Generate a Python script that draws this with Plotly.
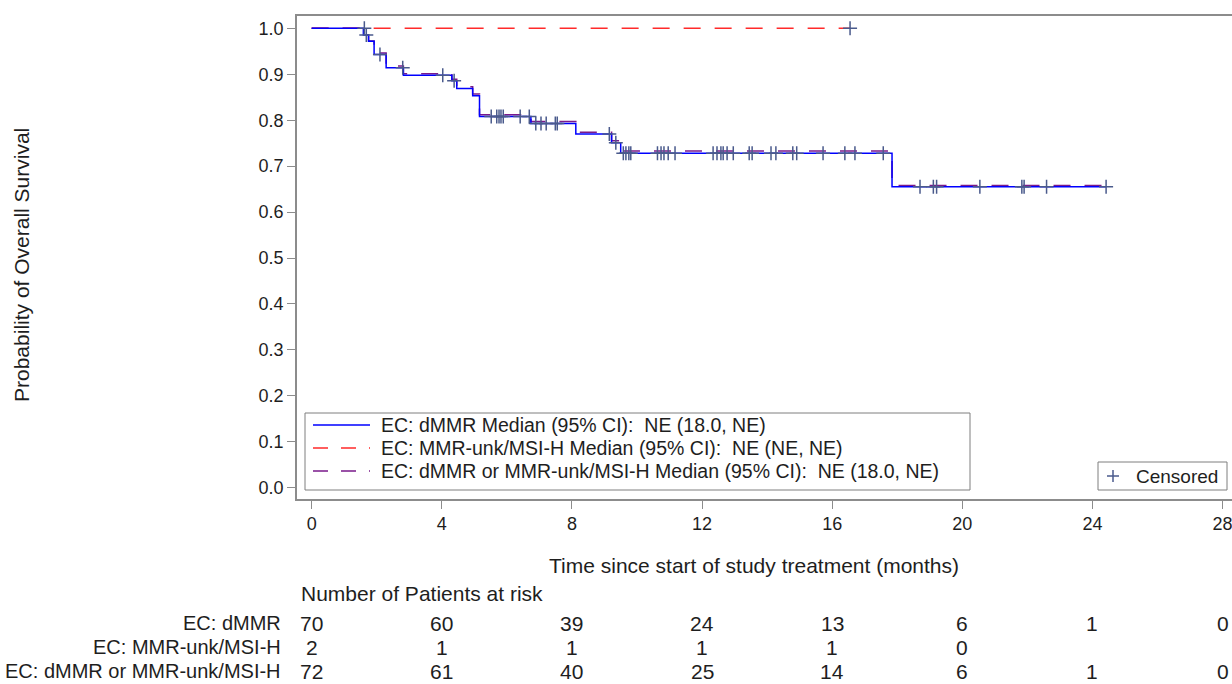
import plotly.graph_objects as go

# ---------------- data ----------------
# dMMR (blue, solid)
dmmr_t = [0, 1.59, 1.75, 1.92, 2.29, 2.82, 4.31, 4.46, 4.95, 5.16, 6.74, 8.12, 9.22, 9.50, 17.84, 24.42]
dmmr_s = [1.0, 0.9857, 0.972, 0.943, 0.914, 0.898, 0.886, 0.869, 0.853, 0.808, 0.793, 0.770, 0.751, 0.728, 0.655, 0.655]

# MMR-unk/MSI-H (red, dashed)
unk_t = [0, 16.55]
unk_s = [1.0, 1.0]

# combined (purple, dashed)
comb_t = dmmr_t
comb_s = [1.0, 0.9861, 0.9725, 0.946, 0.918, 0.901, 0.889, 0.873, 0.857, 0.812, 0.797, 0.774, 0.755, 0.733, 0.658, 0.658]

# censored observations (time, survival)
cens_t = [1.62, 1.68, 2.10, 2.80, 4.03, 4.38,
          5.52, 5.69, 5.76, 5.82, 5.89, 6.41, 6.69,
          6.89, 7.05, 7.21, 7.49, 7.55,
          9.15, 9.35,
          9.58, 9.66, 9.75, 9.81, 10.63, 10.74, 10.83, 10.96, 11.17,
          12.34, 12.46, 12.58, 12.65, 12.77, 12.96, 13.45, 13.54,
          14.12, 14.27, 14.79, 14.91, 15.72, 16.39, 16.70, 17.57,
          18.70, 19.11, 19.21, 20.54, 21.83, 21.90, 22.59, 24.42,
          16.55]
cens_s = [1.0, 0.9857, 0.943, 0.914, 0.898, 0.886,
          0.808, 0.808, 0.808, 0.808, 0.808, 0.808, 0.808,
          0.793, 0.793, 0.793, 0.793, 0.793,
          0.770, 0.751,
          0.728, 0.728, 0.728, 0.728, 0.728, 0.728, 0.728, 0.728, 0.728,
          0.728, 0.728, 0.728, 0.728, 0.728, 0.728, 0.728, 0.728,
          0.728, 0.728, 0.728, 0.728, 0.728, 0.728, 0.728, 0.728,
          0.655, 0.655, 0.655, 0.655, 0.655, 0.655, 0.655, 0.655,
          1.0]

x_ticks = [0, 4, 8, 12, 16, 20, 24, 28]
y_ticks = [0.0, 0.1, 0.2, 0.3, 0.4, 0.5, 0.6, 0.7, 0.8, 0.9, 1.0]

risk_labels = ["EC: dMMR", "EC: MMR-unk/MSI-H", "EC: dMMR or MMR-unk/MSI-H"]
risk_dmmr = ["70", "60", "39", "24", "13", "6", "1", "0"]
risk_unk = ["2", "1", "1", "1", "1", "0", "", ""]
risk_comb = ["72", "61", "40", "25", "14", "6", "1", "0"]

legend_names = [
    "EC: dMMR Median (95% CI):  NE (18.0, NE)",
    "EC: MMR-unk/MSI-H Median (95% CI):  NE (NE, NE)",
    "EC: dMMR or MMR-unk/MSI-H Median (95% CI):  NE (18.0, NE)",
]

# ---------------- styling ----------------
FONT = "Liberation Sans, Arial, sans-serif"
TXT = "#1e1e1e"
AX = "#8c8c8c"
CENS = "#4a5a8c"
BLUE = "#0000ff"
RED = "#ff2a2a"
PURPLE = "#7a1a8a"

W, H = 1232, 684
# plot area in page pixels
PL, PT, PB, PR = 297, 16, 499, 1232
L, T, B, R = PL, PT, H - PB, W - PR
plot_w = PR - PL
plot_h = PB - PT


def pxx(xpix):
    return (xpix - PL) / plot_w


def pxy(ypix):
    return (PB - ypix) / plot_h


fig = go.Figure()

fig.add_trace(go.Scatter(x=unk_t, y=unk_s, mode="lines", line_shape="hv",
                         line=dict(color=RED, width=1.5, dash="17px,14px"),
                         name=legend_names[1]))
fig.add_trace(go.Scatter(x=comb_t, y=comb_s, mode="lines", line_shape="hv",
                         line=dict(color=PURPLE, width=1.5, dash="17px,14px"),
                         name=legend_names[2]))
fig.add_trace(go.Scatter(x=dmmr_t, y=dmmr_s, mode="lines", line_shape="hv",
                         line=dict(color=BLUE, width=1.5),
                         name=legend_names[0]))
fig.add_trace(go.Scatter(x=cens_t, y=cens_s, mode="markers",
                         marker=dict(symbol="cross-thin", size=10,
                                     line=dict(color=CENS, width=1.5), color=CENS),
                         name="Censored"))

annotations = []
shapes = []


def note(text, x, y, size, xanchor="center", yanchor="middle", xref="paper", angle=0, color=TXT):
    annotations.append(dict(text=text, xref=xref, yref="paper", x=x, y=y,
                            xanchor=xanchor, yanchor=yanchor, textangle=angle,
                            showarrow=False, font=dict(size=size, color=color, family=FONT)))


note("Probability of Overall Survival", pxx(21), pxy(265), 21, angle=-90)
note("Time since start of study treatment (months)", pxx(754), pxy(565), 21)
note("Number of Patients at risk", pxx(299), pxy(593), 21, xanchor="left")
row_y = [623, 647, 671]
for lab, yy in zip(risk_labels, row_y):
    note(lab, pxx(283), pxy(yy), 20, xanchor="right")
for vals, yy in zip([risk_dmmr, risk_unk, risk_comb], row_y):
    for xv, v in zip(x_ticks, vals):
        if v == "":
            continue
        note(v, xv, pxy(yy), 21, xref="x")

# legend box (curves)
shapes.append(dict(type="rect", xref="paper", yref="paper",
                   x0=pxx(305), x1=pxx(970), y0=pxy(490), y1=pxy(413),
                   line=dict(color="#7f7f7f", width=1), fillcolor="white", layer="above"))
leg_y = [425, 448, 471]
leg_style = [(BLUE, "solid"), (RED, "15px,13px"), (PURPLE, "15px,13px")]
for name, yy, (col, dsh) in zip(legend_names, leg_y, leg_style):
    shapes.append(dict(type="line", xref="paper", yref="paper",
                       x0=pxx(313), x1=pxx(370), y0=pxy(yy), y1=pxy(yy),
                       line=dict(color=col, width=1.5, dash=dsh)))
    note(name, pxx(379), pxy(yy), 19.5, xanchor="left")

# legend box (censored)
shapes.append(dict(type="rect", xref="paper", yref="paper",
                   x0=pxx(1098), x1=pxx(1227), y0=pxy(490), y1=pxy(462),
                   line=dict(color="#7f7f7f", width=1), fillcolor="white", layer="above"))
shapes.append(dict(type="line", xref="paper", yref="paper",
                   x0=pxx(1107), x1=pxx(1119), y0=pxy(476), y1=pxy(476),
                   line=dict(color=CENS, width=1.5)))
shapes.append(dict(type="line", xref="paper", yref="paper",
                   x0=pxx(1113), x1=pxx(1113), y0=pxy(470), y1=pxy(482),
                   line=dict(color=CENS, width=1.5)))
note("Censored", pxx(1134), pxy(476), 19, xanchor="left")

fig.update_layout(
    width=W, height=H,
    margin=dict(l=L, r=R, t=T, b=B),
    paper_bgcolor="white", plot_bgcolor="white",
    font=dict(family=FONT, color=TXT),
    annotations=annotations,
    shapes=shapes,
    showlegend=False,
)

fig.update_xaxes(range=[-0.45, 28.29], tickvals=x_ticks, ticktext=[str(v) for v in x_ticks],
                 showgrid=False, zeroline=False, showline=True, linecolor=AX, linewidth=1.5,
                 mirror=True, ticks="outside", ticklen=8, tickcolor=AX,
                 ticklabeloverflow="allow",
                 tickfont=dict(size=18, color=TXT, family=FONT))
fig.update_yaxes(range=[-0.0246, 1.0268], tickvals=y_ticks, tickformat=".1f",
                 showgrid=False, zeroline=False, showline=True, linecolor=AX, linewidth=1.5,
                 ticks="outside", ticklen=8, tickcolor=AX,
                 tickfont=dict(size=18, color=TXT, family=FONT))

fig.write_html("out.html",
               config={"displayModeBar": False},
               post_script="document.body.style.margin='0';document.body.style.overflow='hidden';")
